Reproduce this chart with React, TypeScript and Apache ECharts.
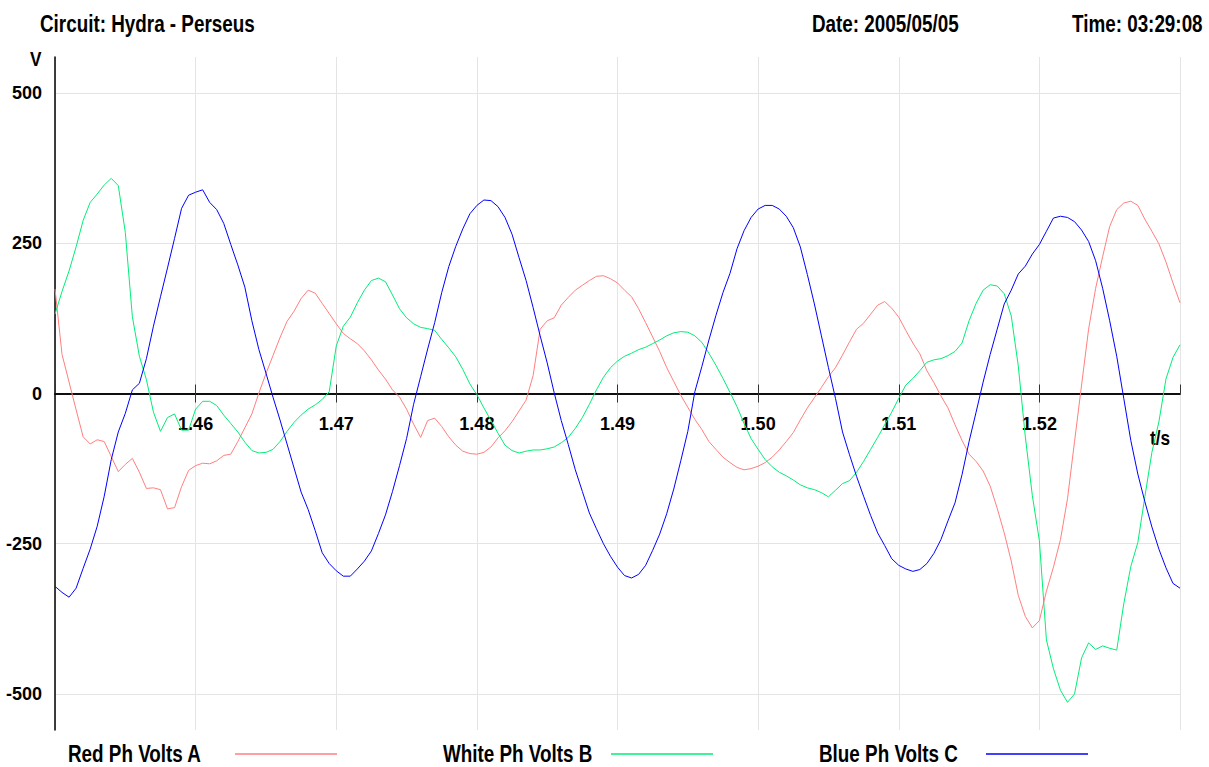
import React, { useEffect, useRef } from "react";
import * as echarts from "echarts";

// Sampling of the recorder: start time and step (s)
const T_START = 1.45;
const T_STEP = 0.0005;

// Phase voltages (V), one value per sample
const RED_A = [
  174, 65, 19, -27, -72, -84, -77, -80, -105, -130,
  -118, -108, -131, -158, -157, -160, -192, -190, -155, -128,
  -120, -116, -117, -112, -103, -101, -80, -57, -34, 1,
  33, 63, 93, 120, 137, 158, 172, 167, 150, 133,
  116, 100, 91, 83, 71, 56, 39, 24, 6, -6,
  -26, -51, -73, -45, -41, -55, -72, -86, -96, -100,
  -101, -98, -89, -74, -62, -47, -29, -11, 30, 107,
  121, 126, 147, 160, 172, 180, 188, 195, 196, 191,
  184, 172, 161, 141, 118, 94, 70, 43, 20, -3,
  -23, -43, -60, -80, -93, -106, -115, -123, -127, -125,
  -121, -115, -106, -94, -80, -65, -44, -24, -7, 10,
  28, 43, 64, 86, 107, 117, 132, 147, 153, 142,
  127, 105, 84, 66, 38, 18, -4, -24, -52, -78,
  -101, -113, -129, -154, -191, -232, -279, -336, -371, -390,
  -378, -329, -289, -243, -175, -80, 14, 107, 175, 228,
  278, 306, 317, 320, 313, 290, 270, 249, 219, 184, 151,
];

const WHITE_B = [
  132, 170, 204, 244, 288, 318, 332, 347, 358, 346,
  268, 128, 62, 23, -31, -63, -40, -34, -61, -61,
  -26, -13, -13, -20, -36, -50, -64, -81, -95, -99,
  -98, -93, -80, -63, -48, -36, -26, -19, -10, 3,
  79, 112, 127, 151, 172, 188, 192, 186, 164, 141,
  126, 116, 110, 108, 105, 90, 76, 61, 40, 16,
  -2, -24, -45, -66, -86, -95, -99, -96, -94, -94,
  -92, -89, -82, -73, -58, -40, -18, 6, 27, 43,
  54, 62, 67, 73, 77, 83, 89, 96, 101, 103,
  102, 96, 85, 67, 47, 25, 2, -22, -50, -75,
  -93, -110, -122, -131, -137, -144, -152, -157, -160, -165,
  -172, -161, -150, -145, -131, -113, -93, -73, -52, -31,
  -8, 14, 25, 38, 52, 56, 58, 63, 70, 84,
  121, 150, 172, 181, 179, 166, 129, 46, -72, -170,
  -245, -410, -458, -494, -514, -500, -440, -415, -426, -420,
  -424, -427, -350, -288, -248, -172, -98, -47, 24, 60, 81,
];

const BLUE_C = [
  -321, -331, -339, -324, -291, -259, -221, -171, -110, -64,
  -33, 6, 17, 58, 112, 161, 209, 258, 308, 330,
  335, 339, 318, 306, 283, 248, 214, 177, 121, 73,
  34, -6, -44, -84, -124, -164, -193, -228, -265, -283,
  -295, -304, -304, -292, -279, -262, -233, -202, -163, -120,
  -75, -18, 28, 74, 118, 168, 211, 245, 274, 299,
  313, 322, 321, 311, 293, 265, 226, 188, 143, 96,
  51, 1, -45, -85, -127, -163, -199, -225, -250, -271,
  -289, -303, -307, -301, -286, -261, -234, -200, -159, -112,
  -63, 3, 45, 89, 130, 168, 200, 241, 271, 293,
  307, 313, 313, 307, 295, 276, 244, 198, 149, 96,
  43, -8, -64, -102, -138, -171, -203, -232, -253, -275,
  -286, -292, -296, -293, -283, -266, -243, -212, -182, -135,
  -80, -31, 19, 65, 107, 149, 172, 199, 212, 232,
  248, 270, 292, 295, 293, 286, 272, 253, 221, 175,
  121, 62, -8, -78, -134, -180, -222, -259, -290, -316, -324,
];

const SERIES_NAMES = ["Red Ph Volts A", "White Ph Volts B", "Blue Ph Volts C"];
const X_TICK_LABELS = ["1.46", "1.47", "1.48", "1.49", "1.50", "1.51", "1.52"];
const Y_TICKS = [-500, -250, 0, 250, 500];
const Y_MIN = -560;
const Y_MAX = 560;
const HEADER = ["Circuit: Hydra - Perseus", "Date: 2005/05/05", "Time: 03:29:08"];
const Y_NAME = "V";
const X_NAME = "t/s";

const FONT = "'Liberation Sans', Arial, sans-serif";
const COLORS = ["#ff7f7f", "#00ee77", "#0000ff"];
const NARROW = 0.82;

function toPairs(values: number[]) {
  return values.map((v, i) => [+(T_START + i * T_STEP).toFixed(4), v]);
}

function narrowText(text: string, x: number, y: number, size: number) {
  return {
    type: "text",
    x,
    y,
    scaleX: NARROW,
    style: {
      text,
      font: `bold ${size}px ${FONT}`,
      fill: "#000",
      align: "left",
      verticalAlign: "middle",
    },
  };
}

export default function App() {
  const ref = useRef<HTMLDivElement>(null);

  useEffect(() => {
    if (!ref.current) return;
    const chart = echarts.init(ref.current, undefined, { renderer: "svg" });
    const textBase = { fontFamily: FONT, fontWeight: "bold" as const, color: "#000" };
    const dataSets = [RED_A, WHITE_B, BLUE_C];

    const gridTop = 57;
    const gridBottom = 37;
    const gridHeight = 767 - gridTop - gridBottom;
    // distance of the zero line from the grid's top / bottom edge
    const zeroFromTop = (gridHeight * (Y_MAX - 0)) / (Y_MAX - Y_MIN);
    const zeroFromBottom = gridHeight - zeroFromTop;

    const headerX = [40, 812, 1072];
    const legendLayout = [
      { textX: 68, lineX: 235 },
      { textX: 443, lineX: 611 },
      { textX: 819, lineX: 986 },
    ];
    const legendY = 754;

    const graphics: any[] = [
      ...HEADER.map((h, i) => narrowText(h, headerX[i], 24, 23)),
      narrowText(Y_NAME, 30, 59, 21),
      narrowText(X_NAME, 1150, 438, 21),
    ];
    SERIES_NAMES.forEach((name, i) => {
      graphics.push(narrowText(name, legendLayout[i].textX, legendY, 23));
      graphics.push({
        type: "line",
        shape: { x1: legendLayout[i].lineX, y1: legendY, x2: legendLayout[i].lineX + 102, y2: legendY },
        style: { stroke: COLORS[i], lineWidth: 1.5 },
      });
    });

    const option: any = {
      animation: false,
      backgroundColor: "#fff",
      grid: { left: 55, right: 29, top: gridTop, bottom: gridBottom, containLabel: false },
      xAxis: [
        {
          type: "value",
          min: 1.45,
          max: 1.53,
          interval: 0.01,
          position: "bottom",
          offset: -zeroFromBottom,
          axisLine: { show: true, onZero: false, lineStyle: { color: "#000", width: 1.5 } },
          axisTick: { show: true, length: 9, lineStyle: { color: "#333", width: 1 } },
          axisLabel: {
            ...textBase,
            fontSize: 18,
            margin: 21,
            showMinLabel: false,
            showMaxLabel: false,
            formatter: (v: number) => {
              const s = v.toFixed(2);
              return X_TICK_LABELS.includes(s) ? s : "";
            },
          },
          splitLine: { show: true, lineStyle: { color: "#e4e4e4", width: 1 } },
        },
        {
          type: "value",
          min: 1.45,
          max: 1.53,
          interval: 0.01,
          position: "top",
          offset: -zeroFromTop,
          axisLine: { show: true, onZero: false, lineStyle: { color: "#000", width: 1.5 } },
          axisTick: { show: true, length: 9, lineStyle: { color: "#333", width: 1 } },
          axisLabel: { show: false },
          splitLine: { show: false },
        },
      ],
      yAxis: {
        type: "value",
        min: Y_MIN,
        max: Y_MAX,
        position: "left",
        axisLine: { show: true, onZero: false, lineStyle: { color: "#000", width: 1.5 } },
        axisTick: { show: false, customValues: Y_TICKS },
        axisLabel: { ...textBase, fontSize: 18, margin: 13, customValues: Y_TICKS },
        splitLine: { show: true, lineStyle: { color: "#e4e4e4", width: 1 } },
      },
      graphic: graphics,
      series: SERIES_NAMES.map((name, i) => ({
        name,
        type: "line",
        xAxisIndex: 0,
        yAxisIndex: 0,
        data: toPairs(dataSets[i]),
        showSymbol: false,
        symbol: "none",
        smooth: false,
        color: COLORS[i],
        lineStyle: { color: COLORS[i], width: 1 },
        z: 2 + i,
      })),
    };

    chart.setOption(option);
    return () => chart.dispose();
  }, []);

  return (
    <div
      ref={ref}
      style={{ position: "absolute", left: 0, top: 0, width: 1209, height: 767, background: "#fff" }}
    />
  );
}
